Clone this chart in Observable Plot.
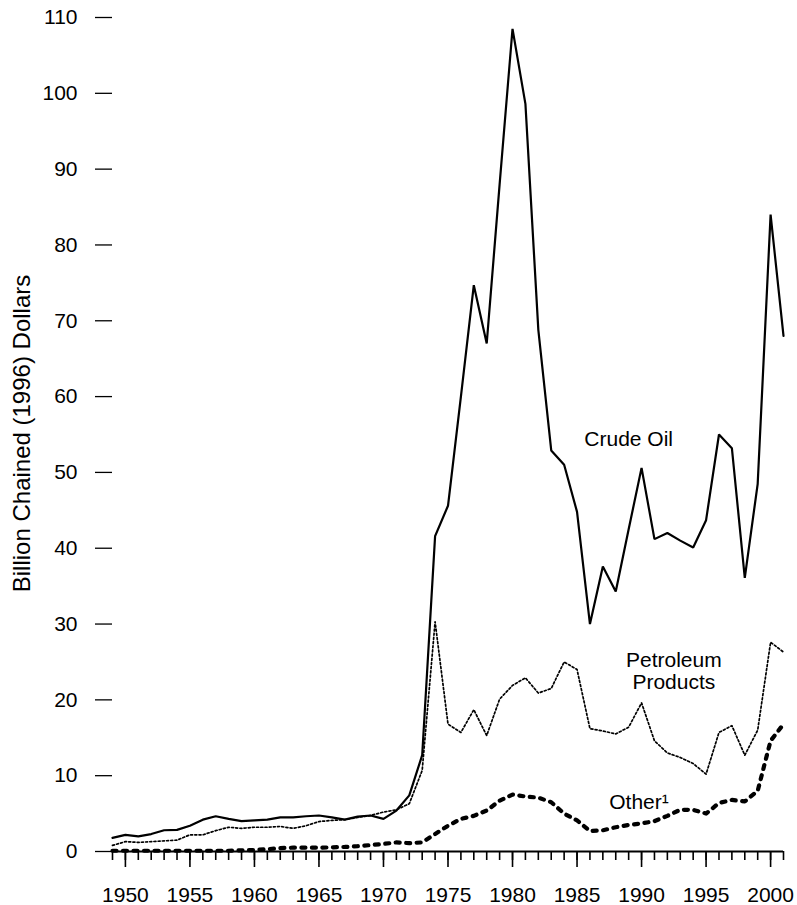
<!DOCTYPE html>
<html>
<head>
<meta charset="utf-8">
<script src="https://cdn.jsdelivr.net/npm/d3@7"></script>
<script src="https://cdn.jsdelivr.net/npm/@observablehq/plot@0.6"></script>
<style>
  html, body { margin: 0; padding: 0; background: #fff; }
  #chart svg { display: block; }
</style>
</head>
<body>
<div id="chart"></div>
<script>
// ---- Data (billion chained 1996 dollars) ----
const years = [1949,1950,1951,1952,1953,1954,1955,1956,1957,1958,1959,1960,1961,1962,1963,1964,1965,1966,1967,1968,1969,1970,1971,1972,1973,1974,1975,1976,1977,1978,1979,1980,1981,1982,1983,1984,1985,1986,1987,1988,1989,1990,1991,1992,1993,1994,1995,1996,1997,1998,1999,2000,2001];

const crudeOil = [1.8,2.2,2.0,2.3,2.8,2.85,3.4,4.2,4.65,4.3,4.0,4.1,4.2,4.5,4.5,4.65,4.75,4.5,4.2,4.6,4.75,4.3,5.4,7.4,12.7,
  41.6,45.6,60.0,74.7,67.0,88.0,108.5,98.6,68.8,52.9,51.0,44.8,30.0,37.6,34.3,42.5,50.6,41.2,42.0,41.0,40.1,43.7,55.0,53.2,36.1,48.5,84.0,68.0];

const petroleumProducts = [0.8,1.3,1.2,1.3,1.4,1.5,2.2,2.2,2.75,3.2,3.05,3.2,3.2,3.3,3.05,3.4,3.95,4.1,4.2,4.5,4.75,5.2,5.5,6.3,10.7,
  30.3,16.8,15.7,18.7,15.3,20.1,21.9,22.9,20.9,21.5,25.0,24.0,16.2,15.9,15.5,16.4,19.6,14.6,13.0,12.4,11.6,10.2,15.7,16.6,12.7,16.0,27.6,26.3];

const other = [0.1,0.1,0.1,0.1,0.1,0.1,0.1,0.1,0.1,0.1,0.15,0.2,0.3,0.45,0.5,0.5,0.5,0.55,0.6,0.7,0.85,1.0,1.2,1.1,1.2,
  2.3,3.4,4.3,4.7,5.4,6.7,7.5,7.25,7.1,6.5,5.0,4.1,2.7,2.8,3.2,3.5,3.7,4.0,4.7,5.5,5.5,5.0,6.4,6.8,6.6,8.0,14.6,16.8];

const yTicks = [0,10,20,30,40,50,60,70,80,90,100,110];
const xMajorTicks = [1950,1955,1960,1965,1970,1975,1980,1985,1990,1995,2000];

const seriesLabels = ["Crude Oil", "Petroleum\nProducts", "Other\u00B9"];
const labelYears = [1989.0, 1992.5, 1989.8];
const labelValues = [55.5, 26.3, 7.65];

const yTitle = "Billion Chained (1996) Dollars";

// ---- Build tables ----
const toRows = (vals) => years.map((yr, i) => ({year: yr, value: vals[i]}));
const crudeRows = toRows(crudeOil);
const petroRows = toRows(petroleumProducts);
const otherRows = toRows(other);
const labelRows = seriesLabels.map((t, i) => ({text: t, year: labelYears[i], value: labelValues[i]}));

const font = "'Liberation Sans', Arial, Helvetica, sans-serif";

const chart = Plot.plot({
  width: 797,
  height: 905,
  marginLeft: 112,
  marginRight: 14,
  marginTop: 17,
  marginBottom: 54,
  style: {fontFamily: font, fontSize: "21px", background: "#fff", color: "#000"},
  x: {domain: [1949, 2001], label: null},
  y: {domain: [0, 110], label: null},
  marks: [
    Plot.axisY({ticks: yTicks, tickSize: 17, tickPadding: 18, tickFormat: d => String(d), label: null, strokeWidth: 1.3, fontSize: 21}),
    Plot.axisX({ticks: years, tickSize: 9, tickFormat: () => "", label: null, strokeWidth: 1.6}),
    Plot.axisX({ticks: xMajorTicks, tickSize: 16, tickPadding: 20, tickFormat: d => String(d), label: null, strokeWidth: 1.6, fontSize: 21}),
    Plot.ruleY([0], {stroke: "#000", strokeWidth: 2}),
    Plot.line(otherRows, {x: "year", y: "value", stroke: "#000", strokeWidth: 4.2, strokeDasharray: "4,6.5", strokeLinecap: "round", strokeLinejoin: "round"}),
    Plot.line(petroRows, {x: "year", y: "value", stroke: "#000", strokeWidth: 1.7, strokeDasharray: "2,2.2"}),
    Plot.line(crudeRows, {x: "year", y: "value", stroke: "#000", strokeWidth: 2.2, strokeLinejoin: "miter"}),
    Plot.text(labelRows, {x: "year", y: "value", text: "text", lineAnchor: "top", textAnchor: "middle", fontSize: 21, fill: "#000", lineHeight: 1.02}),
    Plot.text([yTitle], {frameAnchor: "left", textAnchor: "middle", lineAnchor: "middle", rotate: -90, dx: -90, dy: -1, fontSize: 24, fill: "#000"})
  ]
});

document.getElementById("chart").appendChild(chart);
</script>
</body>
</html>
